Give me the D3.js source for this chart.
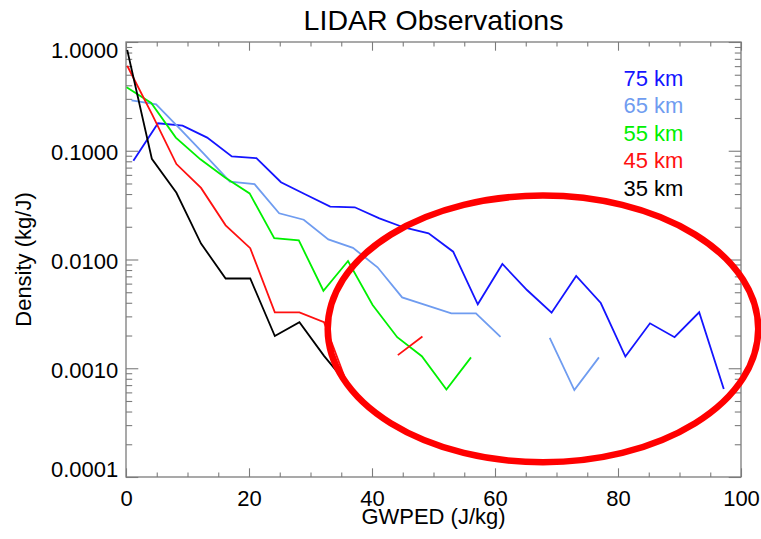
<!DOCTYPE html>
<html>
<head>
<meta charset="utf-8">
<script src="https://cdn.jsdelivr.net/npm/d3@7"></script>
<style>
  html, body { margin: 0; padding: 0; background: #ffffff; }
  svg { display: block; font-family: "Liberation Sans", Arial, Helvetica, sans-serif; }
</style>
</head>
<body>
<svg id="chart" width="761" height="539"></svg>
<script>
// GWPED bin centres (J/kg) and probability densities (kg/J) for each altitude
const altitudes = ["75 km", "65 km", "55 km", "45 km", "35 km"];

const gwped75 = [1.2, 5.2, 9.2, 13.2, 17.2, 21.2, 25.2, 29.2, 33.2, 37.2, 41.2, 45.2, 49.2,
                 53.2, 57.2, 61.2, 65.2, 69.2, 73.2, 77.2, 81.2, 85.2, 89.2, 93.2, 97.2];
const density75 = [0.081, 0.179, 0.170, 0.132, 0.0886, 0.0854, 0.0514, 0.0396, 0.0306, 0.0302,
                   0.0239, 0.0197, 0.0174, 0.0118, 0.00387, 0.00909, 0.00524, 0.00324, 0.00705,
                   0.00398, 0.00128, 0.00259, 0.00193, 0.00327, 0.000645];

const gwped65 = [0.9, 4.9, 8.9, 12.9, 16.9, 20.9, 24.9, 28.9, 32.9, 36.9, 40.9, 44.9, 48.9,
                 52.9, 56.9, 60.9, 64.9, 68.9, 72.9, 76.9];
const density65 = [0.291, 0.267, 0.156, 0.0908, 0.0519, 0.0493, 0.0266, 0.0232, 0.0153, 0.0128,
                   0.00848, 0.00448, 0.00378, 0.0032, 0.0032, 0.00194, null, 0.0019, 0.00063, 0.00126];

const gwped55 = [0.1, 4.1, 8.1, 12.1, 16.1, 20.1, 24.1, 28.1, 32.1, 36.1, 40.1, 44.1, 48.1, 52.1, 56.1];
const density55 = [0.383, 0.275, 0.132, 0.0834, 0.0568, 0.0405, 0.0157, 0.0150, 0.00516, 0.00969,
                   0.00382, 0.00193, 0.00129, 0.000638, 0.00126];

const gwped45 = [0.2, 4.2, 8.2, 12.2, 16.2, 20.2, 24.2, 28.2, 32.2, 36.2, 40.2, 44.2, 48.2];
const density45 = [0.605, 0.218, 0.0755, 0.0455, 0.0206, 0.0127, 0.00326, 0.00326, 0.00265,
                   0.00066, null, 0.00132, 0.00196];

const gwped35 = [0.2, 4.2, 8.2, 12.2, 16.2, 20.2, 24.2, 28.2, 32.2, 36.2];
const density35 = [0.844, 0.0843, 0.0411, 0.0140, 0.00669, 0.00669, 0.00198, 0.00265, 0.00130, 0.00069];

const xTickValues = [0, 20, 40, 60, 80, 100];
const yTickValues = [0.0001, 0.001, 0.01, 0.1, 1];

const seriesX = [gwped75, gwped65, gwped55, gwped45, gwped35];
const seriesY = [density75, density65, density55, density45, density35];
const seriesColors = ["#1414ff", "#6f9cf0", "#00f000", "#ff1010", "#000000"];

// ---- layout ----
const svg = d3.select("#chart");
const plotLeft = 126, plotRight = 741, plotTop = 42, plotBottom = 477;
const x = d3.scaleLinear().domain([0, 100]).range([plotLeft, plotRight]);
const y = d3.scaleLog().domain([1e-4, 1]).range([plotBottom, plotTop]);

const axisColor = "#7c7c7c";
const xMajorLen = 8.7, xMinorLen = 4.4, yMajorLen = 12.3, yMinorLen = 6.2;

const xMinor = d3.range(0, 101, 5).filter(v => v % 20 !== 0);
const yMinor = [];
[-4, -3, -2, -1].forEach(k => { for (let m = 2; m <= 9; m++) yMinor.push(m * Math.pow(10, k)); });

// title
svg.append("text")
  .attr("x", (plotLeft + plotRight) / 2).attr("y", 30)
  .attr("text-anchor", "middle")
  .attr("font-size", 28.5)
  .attr("fill", "#000")
  .text("LIDAR Observations");

// tick marks (all pointing into the plot)
function styleAxis(g) {
  g.select(".domain").remove();
  g.selectAll(".tick line").attr("stroke", axisColor).attr("stroke-width", 1.1);
}

// bottom axis with labels
const gBottom = svg.append("g").attr("transform", `translate(0,${plotBottom})`)
  .call(d3.axisBottom(x).tickValues(xTickValues).tickSizeInner(-xMajorLen).tickSizeOuter(0)
        .tickPadding(0).tickFormat(d3.format("d")));
styleAxis(gBottom);
gBottom.selectAll(".tick text")
  .attr("y", 29).attr("dy", null)
  .attr("font-size", 22).attr("fill", "#000")
  .attr("font-family", "Liberation Sans, Arial, sans-serif");

svg.append("g").attr("transform", `translate(0,${plotBottom})`)
  .call(d3.axisBottom(x).tickValues(xMinor).tickSizeInner(-xMinorLen).tickSizeOuter(0).tickFormat(""))
  .call(styleAxis);

// top axis
svg.append("g").attr("transform", `translate(0,${plotTop})`)
  .call(d3.axisTop(x).tickValues(xTickValues).tickSizeInner(-xMajorLen).tickSizeOuter(0).tickFormat(""))
  .call(styleAxis);
svg.append("g").attr("transform", `translate(0,${plotTop})`)
  .call(d3.axisTop(x).tickValues(xMinor).tickSizeInner(-xMinorLen).tickSizeOuter(0).tickFormat(""))
  .call(styleAxis);

// left axis with labels; end labels are kept inside the frame
const fmt = d3.format(".4f");
const gLeft = svg.append("g").attr("transform", `translate(${plotLeft},0)`)
  .call(d3.axisLeft(y).tickValues(yTickValues).tickSizeInner(-yMajorLen).tickSizeOuter(0)
        .tickPadding(0).tickFormat(fmt));
styleAxis(gLeft);
gLeft.selectAll(".tick text")
  .attr("x", -7.7).attr("dy", null)
  .attr("y", d => {
    const py = y(d);
    const c = Math.min(Math.max(py + 1, plotTop + 7.7), plotBottom - 8);
    return c - py + 7.9;
  })
  .attr("font-size", 22).attr("fill", "#000")
  .attr("font-family", "Liberation Sans, Arial, sans-serif");

svg.append("g").attr("transform", `translate(${plotLeft},0)`)
  .call(d3.axisLeft(y).tickValues(yMinor).tickSizeInner(-yMinorLen).tickSizeOuter(0).tickFormat(""))
  .call(styleAxis);

// right axis
svg.append("g").attr("transform", `translate(${plotRight},0)`)
  .call(d3.axisRight(y).tickValues(yTickValues).tickSizeInner(-yMajorLen).tickSizeOuter(0).tickFormat(""))
  .call(styleAxis);
svg.append("g").attr("transform", `translate(${plotRight},0)`)
  .call(d3.axisRight(y).tickValues(yMinor).tickSizeInner(-yMinorLen).tickSizeOuter(0).tickFormat(""))
  .call(styleAxis);

// frame
svg.append("rect")
  .attr("x", plotLeft).attr("y", plotTop)
  .attr("width", plotRight - plotLeft).attr("height", plotBottom - plotTop)
  .attr("fill", "none").attr("stroke", axisColor).attr("stroke-width", 1.3);

// axis titles
svg.append("text")
  .attr("x", (plotLeft + plotRight) / 2).attr("y", 523.5)
  .attr("text-anchor", "middle").attr("font-size", 22).attr("fill", "#000")
  .text("GWPED (J/kg)");

svg.append("text")
  .attr("transform", `translate(30.5,${(plotTop + plotBottom) / 2}) rotate(-90)`)
  .attr("text-anchor", "middle").attr("font-size", 22).attr("fill", "#000")
  .text("Density (kg/J)");

// density curves, broken where a bin is empty
svg.append("clipPath").attr("id", "plot-clip")
  .append("rect").attr("x", plotLeft).attr("y", plotTop)
  .attr("width", plotRight - plotLeft).attr("height", plotBottom - plotTop);

const line = d3.line()
  .defined(d => d[1] != null)
  .x(d => x(d[0]))
  .y(d => y(d[1]));

const curves = svg.append("g").attr("clip-path", "url(#plot-clip)");
seriesX.forEach((xs, i) => {
  const pts = xs.map((v, j) => [v, seriesY[i][j]]);
  curves.append("path")
    .datum(pts)
    .attr("d", line)
    .attr("fill", "none")
    .attr("stroke", seriesColors[i])
    .attr("stroke-width", 1.8)
    .attr("stroke-linejoin", "miter");
});

// legend
const legend = svg.append("g");
altitudes.forEach((name, i) => {
  legend.append("text")
    .attr("x", 623.5).attr("y", 85.5 + i * 27.6)
    .attr("font-size", 22)
    .attr("fill", seriesColors[i])
    .text(name);
});

// highlighted high-GWPED tail
const hlCenterX = 67.8, hlCenterY = 2.3e-3, hlHalfWidth = 35, hlHalfDecades = 1.226;
svg.append("ellipse")
  .attr("cx", x(hlCenterX))
  .attr("cy", y(hlCenterY))
  .attr("rx", x(hlHalfWidth) - x(0))
  .attr("ry", y(1e-3) - y(1e-3 * Math.pow(10, hlHalfDecades)))
  .attr("fill", "none")
  .attr("stroke", "#ff0000")
  .attr("stroke-width", 6.5);
</script>
</body>
</html>
